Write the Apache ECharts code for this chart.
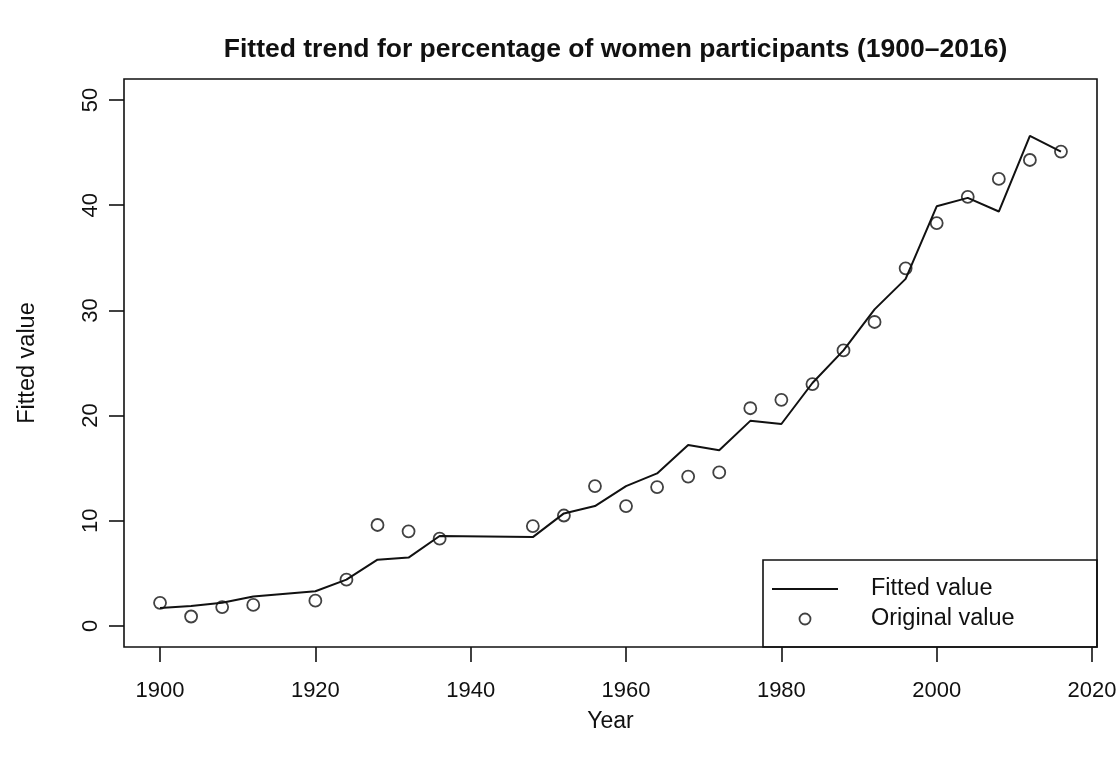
<!DOCTYPE html>
<html>
<head>
<meta charset="utf-8">
<script src="https://cdn.jsdelivr.net/npm/echarts@6/dist/echarts.min.js"></script>
<style>
  html, body { margin: 0; padding: 0; background: #ffffff; }
  #chart { width: 1120px; height: 763px; }
</style>
</head>
<body>
<div id="chart"></div>
<script>
// Summer Games years (no games in 1916, 1940, 1944)
const years = [1900, 1904, 1908, 1912, 1920, 1924, 1928, 1932, 1936, 1948, 1952, 1956, 1960, 1964,
               1968, 1972, 1976, 1980, 1984, 1988, 1992, 1996, 2000, 2004, 2008, 2012, 2016];

// Share of women among participants (%)
const originalValues = [2.2, 0.9, 1.8, 2.0, 2.4, 4.4, 9.6, 9.0, 8.3, 9.5, 10.5, 13.3, 11.4, 13.2,
                        14.2, 14.6, 20.7, 21.5, 23.0, 26.2, 28.9, 34.0, 38.3, 40.8, 42.5, 44.3, 45.1];

// Fitted trend values
const fittedValues = [1.7, 1.9, 2.2, 2.8, 3.3, 4.4, 6.3, 6.5, 8.55, 8.45, 10.7, 11.4, 13.3, 14.5,
                      17.2, 16.7, 19.5, 19.2, 23.1, 26.2, 30.1, 33.0, 39.9, 40.7, 39.4, 46.6, 45.1];

// Axis ticks
const xTickValues = [1900, 1920, 1940, 1960, 1980, 2000, 2020];
const yTickValues = [0, 10, 20, 30, 40, 50];

const titleText = 'Fitted trend for percentage of women participants (1900\u20132016)';
const xTitle = 'Year';
const yTitle = 'Fitted value';
const legendNames = ['Fitted value', 'Original value'];

// ---- layout ----
const INK = '#111111';
const FONT = '"Liberation Sans", Arial, Helvetica, sans-serif';
const box = { left: 124, right: 1097, top: 79, bottom: 647 };
const boxW = box.right - box.left;
const boxH = box.bottom - box.top;

// plot region extends 4% beyond the data range (x) and the 0-50 limits (y)
const xLo = Math.min(...years), xHi = Math.max(...years);
const xPad = (xHi - xLo) * 0.04;
const xDomain = [xLo - xPad, xHi + xPad];
const yLo = yTickValues[0], yHi = yTickValues[yTickValues.length - 1];
const yPad = (yHi - yLo) * 0.04;
const yDomain = [yLo - yPad, yHi + yPad];

const pxX = boxW / (xDomain[1] - xDomain[0]);
const pxY = boxH / (yDomain[1] - yDomain[0]);
const xT0 = xTickValues[0], xT1 = xTickValues[xTickValues.length - 1];

const fittedData = years.map((y, i) => [y, fittedValues[i]]);
const originalData = years.map((y, i) => [y, originalValues[i]]);

const hidden = {
  axisLine: { show: false }, axisTick: { show: false },
  axisLabel: { show: false }, splitLine: { show: false }
};

const chart = echarts.init(document.getElementById('chart'), null, { renderer: 'canvas' });

chart.setOption({
  backgroundColor: '#ffffff',
  animation: false,
  textStyle: { fontFamily: FONT, color: INK },
  title: {
    text: titleText,
    left: (box.left + box.right) / 2,
    textAlign: 'center',
    top: 31,
    textStyle: { fontFamily: FONT, fontWeight: 'bold', fontSize: 26.5, color: INK }
  },
  grid: [
    // plot region with its frame
    { left: box.left, top: box.top, width: boxW, height: boxH, show: true,
      borderColor: INK, borderWidth: 1.6, backgroundColor: 'transparent' },
    // x tick span
    { left: box.left + (xT0 - xDomain[0]) * pxX, top: box.top,
      width: (xT1 - xT0) * pxX, height: boxH, show: false },
    // y tick span
    { left: box.left, top: box.top + (yDomain[1] - yHi) * pxY,
      width: boxW, height: (yHi - yLo) * pxY, show: false }
  ],
  xAxis: [
    Object.assign({ gridIndex: 0, type: 'value', min: xDomain[0], max: xDomain[1],
      name: xTitle, nameLocation: 'middle', nameGap: 63,
      nameTextStyle: { fontFamily: FONT, fontSize: 23, color: INK } }, hidden),
    { gridIndex: 1, type: 'value', min: xT0, max: xT1, interval: xTickValues[1] - xTickValues[0],
      axisLine: { show: false },
      axisTick: { show: true, inside: false, length: 15, lineStyle: { color: INK, width: 1.6 } },
      axisLabel: { show: true, margin: 33, fontFamily: FONT, fontSize: 22, color: INK,
                   showMinLabel: true, showMaxLabel: true, formatter: v => String(v) },
      splitLine: { show: false } },
    Object.assign({ gridIndex: 2, type: 'value', min: 0, max: 1 }, hidden)
  ],
  yAxis: [
    Object.assign({ gridIndex: 0, type: 'value', min: yDomain[0], max: yDomain[1],
      name: yTitle, nameLocation: 'middle', nameGap: 84,
      nameTextStyle: { fontFamily: FONT, fontSize: 23.5, color: INK } }, hidden),
    Object.assign({ gridIndex: 1, type: 'value', min: 0, max: 1 }, hidden),
    { gridIndex: 2, type: 'value', min: yLo, max: yHi, interval: yTickValues[1] - yTickValues[0],
      axisLine: { show: false },
      axisTick: { show: true, inside: false, length: 15, lineStyle: { color: INK, width: 1.6 } },
      axisLabel: { show: true, rotate: 90, margin: 22, fontFamily: FONT, fontSize: 22, color: INK,
                   showMinLabel: true, showMaxLabel: true, formatter: v => String(v) },
      splitLine: { show: false } }
  ],
  legend: {
    orient: 'vertical',
    left: 772,
    top: 577,
    itemWidth: 66,
    itemHeight: 11,
    itemGap: 6,
    padding: 0,
    selectedMode: false,
    textStyle: { fontFamily: FONT, fontSize: 23.5, color: INK, padding: [0, 0, 0, 28] },
    data: [
      { name: legendNames[0], icon: 'path://M0 0H66V2H0Z', itemStyle: { color: INK } },
      { name: legendNames[1], icon: 'circle',
        itemStyle: { color: 'rgba(0,0,0,0)', borderColor: INK, borderWidth: 1.8 } }
    ]
  },
  graphic: [
    { type: 'rect', z: -1, silent: true,
      shape: { x: 763, y: 560, width: box.right - 763, height: box.bottom - 560 },
      style: { fill: '#ffffff', stroke: INK, lineWidth: 1.6 } }
  ],
  series: [
    { name: legendNames[0], type: 'line', xAxisIndex: 0, yAxisIndex: 0,
      data: fittedData, symbol: 'none', smooth: false,
      itemStyle: { color: INK },
      lineStyle: { color: INK, width: 2 } },
    { name: legendNames[1], type: 'scatter', xAxisIndex: 0, yAxisIndex: 0,
      data: originalData, symbol: 'circle', symbolSize: 12,
      itemStyle: { color: 'rgba(0,0,0,0)', borderColor: INK, borderWidth: 1.8 } }
  ]
});
</script>
</body>
</html>
